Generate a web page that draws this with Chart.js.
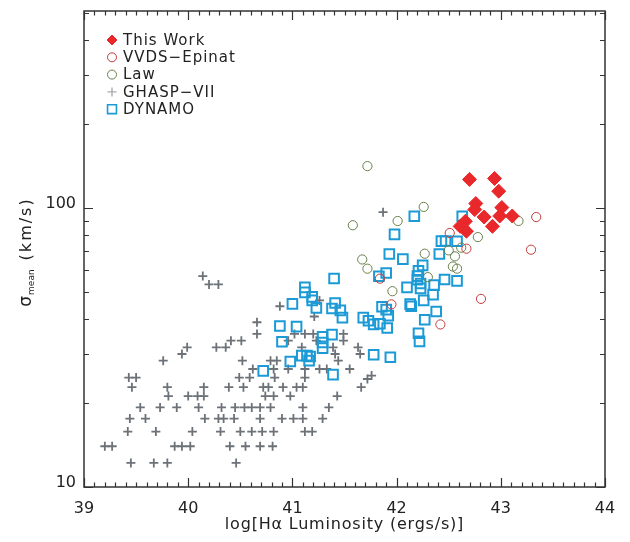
<!DOCTYPE html>
<html>
<head>
<meta charset="utf-8">
<script src="https://cdn.jsdelivr.net/npm/chart.js@4.4.1/dist/chart.umd.min.js"></script>
<style>
  html, body { margin: 0; padding: 0; background: #fff; }
  #wrap { width: 630px; height: 542px; }
</style>
</head>
<body>
<div id="wrap"><canvas id="chart" width="630" height="542"></canvas></div>
<script>
// axis ticks
const xTicks = [39, 40, 41, 42, 43, 44];
const yTickLabels = [10, 100];

// This Work
const thisWorkLum   = [42.70, 42.94, 42.98, 42.76, 42.75, 43.01, 42.84, 42.99, 43.11, 42.92, 42.66, 42.61, 42.67];
const thisWorkSigma = [126.9, 127.9, 115.1, 104.0, 98.9, 100.6, 93.0, 93.8, 93.8, 86.1, 89.8, 86.1, 82.7];

// VVDS-Epinat
const vvdsLum   = [43.34, 43.29, 42.51, 42.67, 42.81, 42.42, 41.95, 41.84];
const vvdsSigma = [93.0, 71.0, 81.5, 71.6, 47.3, 38.3, 45.2, 55.9];

// Law
const lawLum   = [41.72, 42.26, 42.01, 41.58, 43.17, 42.78, 41.67, 41.72, 42.27, 42.50, 42.56, 42.62, 42.54, 42.58, 42.30, 41.96];
const lawSigma = [141.6, 101.1, 90.0, 86.9, 90.0, 78.8, 65.5, 60.7, 68.7, 70.6, 67.2, 72.2, 61.8, 60.7, 56.6, 50.4];

// GHASP-VII
const ghaspLum = [
  39.45, 39.67, 39.80, 40.46,
  39.20, 39.27, 39.87, 39.94, 40.02, 40.40, 40.55, 40.69, 40.81,
  39.42, 39.69, 40.04, 40.31, 40.50, 40.61, 40.71, 40.82, 41.12, 41.19,
  39.44, 39.59, 40.16, 40.29, 40.34, 40.44, 40.69, 40.90, 41.01, 41.10, 41.29,
  39.54, 39.73, 39.89, 40.10, 40.32, 40.45, 40.54, 40.61, 40.69, 40.79, 41.10, 41.35,
  39.81, 40.00, 40.09, 40.15, 40.74, 40.82, 40.98, 41.43,
  39.46, 39.80, 40.15, 40.39, 40.53, 40.72, 40.77, 40.91, 41.04, 41.10, 41.66,
  39.43, 39.50, 40.49, 40.59, 40.83, 41.12, 41.76, 41.72,
  40.62, 40.82, 40.96, 41.12, 41.26, 41.33, 41.55,
  39.76, 40.52, 40.79, 40.85, 41.44,
  39.94, 41.41, 41.65,
  39.99, 40.27, 40.36, 41.09, 41.39, 41.63,
  40.41, 40.51, 40.96, 41.23, 41.49,
  40.66, 41.02, 41.12, 41.20, 41.49,
  40.66, 41.21, 40.88, 41.26, 40.20, 40.29, 40.14, 41.87
];
const ghaspSigma = [
  12.2, 12.2, 12.2, 12.2,
  14.0, 14.0, 14.0, 14.0, 14.0, 14.0, 14.0, 14.0, 14.0,
  15.8, 15.8, 15.8, 15.8, 15.8, 15.8, 15.8, 15.8, 15.8, 15.8,
  17.6, 17.6, 17.6, 17.6, 17.6, 17.6, 17.6, 17.6, 17.6, 17.6, 17.6,
  19.3, 19.3, 19.3, 19.3, 19.3, 19.3, 19.3, 19.3, 19.3, 19.3, 19.3, 19.3,
  21.2, 21.2, 21.2, 21.2, 21.2, 21.2, 21.2, 21.2,
  22.8, 22.8, 22.8, 22.8, 22.8, 22.8, 22.8, 22.8, 22.8, 22.8, 22.8,
  24.7, 24.7, 24.7, 24.7, 24.7, 24.7, 25.1, 24.4,
  26.5, 26.5, 26.5, 26.5, 26.5, 26.5, 26.5,
  28.4, 28.4, 28.4, 28.4, 28.4,
  30.0, 30.0, 30.0,
  31.7, 31.7, 31.7, 31.7, 31.7, 31.7,
  33.5, 33.5, 33.5, 33.5, 33.5,
  35.4, 35.4, 35.4, 35.4, 35.4,
  39.0, 40.9, 44.5, 46.7, 53.3, 53.3, 57.1, 96.8
];

// DYNAMO
const dynamoLum = [
  41.12, 41.12, 41.19, 41.19, 41.00, 41.23, 41.40, 41.41, 41.38, 41.46,
  41.48, 40.88, 41.04, 40.90, 41.29, 41.38, 41.29, 41.29, 41.09, 41.14,
  41.17, 41.16, 40.98, 40.72, 41.39, 41.68, 41.73, 41.78, 41.84, 41.91,
  41.78, 41.94, 41.86, 41.90, 41.92, 42.13, 42.14, 42.26, 42.38, 42.27,
  42.21, 42.22, 42.17, 42.63, 41.98, 42.43, 42.47, 42.58, 41.93, 42.06,
  42.41, 42.25, 42.21, 42.20, 42.20, 42.23, 42.23, 41.90, 41.83, 42.46,
  42.58, 42.10, 42.36, 42.35
];
const dynamoSigma = [
  52.0, 49.9, 48.1, 46.7, 45.4, 43.9, 56.0, 45.7, 43.7, 43.0,
  40.5, 37.8, 37.6, 33.2, 34.6, 35.2, 33.0, 31.5, 29.6, 29.6,
  29.4, 28.4, 28.2, 26.1, 25.3, 40.5, 39.5, 38.3, 38.5, 37.2,
  29.8, 29.2, 44.3, 43.3, 41.2, 45.3, 44.5, 46.7, 42.6, 39.8,
  35.6, 33.3, 93.6, 93.6, 80.6, 76.2, 76.3, 76.1, 68.5, 65.7,
  68.5, 62.4, 59.6, 57.1, 55.4, 53.7, 51.6, 58.6, 57.0, 55.5,
  54.9, 52.0, 53.0, 49.0
];

function pts(xs, ys) {
  return xs.map((x, i) => ({ x: x, y: ys[i] }));
}

const FONT = 'DejaVu Sans';
const INK = '#222';

const legendItems = [
  { text: 'This Work', style: 'rectRot', r: 5, fill: '#e8282b', stroke: '#e8282b', lw: 1 },
  { text: 'VVDS\u2212Epinat', style: 'circle', r: 4.5, fill: null, stroke: '#c43c3c', lw: 1 },
  { text: 'Law', style: 'circle', r: 4.5, fill: null, stroke: '#67804a', lw: 1 },
  { text: 'GHASP\u2212VII', style: 'cross', r: 4.5, fill: null, stroke: '#a7abaf', lw: 1.4 },
  { text: 'DYNAMO', style: 'rect', r: 6.3, fill: null, stroke: '#1b9ad6', lw: 1.6 }
];

// frame, inward ticks, axis titles and legend
const decorPlugin = {
  id: 'decor',
  afterDraw(chart) {
    const ctx = chart.ctx;
    const a = chart.chartArea;
    const xs = chart.scales.x;
    const ys = chart.scales.y;
    ctx.save();
    ctx.strokeStyle = '#333';
    ctx.lineWidth = 1.5;
    ctx.strokeRect(a.left, a.top, a.right - a.left, a.bottom - a.top);

    ctx.lineWidth = 1.2;
    ctx.beginPath();
    for (let k = 0; k <= 50; k++) {
      const v = 39 + k / 10;
      const px = Math.round(xs.getPixelForValue(v)) + 0.5;
      const len = k % 10 === 0 ? 9 : 4.5;
      ctx.moveTo(px, a.bottom); ctx.lineTo(px, a.bottom - len);
      ctx.moveTo(px, a.top); ctx.lineTo(px, a.top + len);
    }
    [10, 100].forEach(dec => {
      for (let m = 1; m <= 9; m++) {
        const v = dec * m;
        if (v > ys.max) break;
        const py = Math.round(ys.getPixelForValue(v)) + 0.5;
        const len = m === 1 ? 9 : 5;
        ctx.moveTo(a.left, py); ctx.lineTo(a.left + len, py);
        ctx.moveTo(a.right, py); ctx.lineTo(a.right - len, py);
      }
    });
    ctx.stroke();

    // x title
    ctx.fillStyle = INK;
    ctx.textBaseline = 'middle';
    ctx.textAlign = 'center';
    ctx.font = '16px "' + FONT + '"';
    ctx.letterSpacing = '0.8px';
    ctx.fillText('log[H\u03b1 Luminosity (ergs/s)]', (a.left + a.right) / 2, 525);

    // y title
    ctx.save();
    ctx.translate(27, 252);
    ctx.rotate(-Math.PI / 2);
    ctx.textAlign = 'left';
    ctx.font = '17px "' + FONT + '"';
    ctx.letterSpacing = '0px';
    const wSig = ctx.measureText('\u03c3').width;
    ctx.font = '9px "' + FONT + '"';
    const wSub = ctx.measureText('mean').width;
    ctx.font = '16px "' + FONT + '"';
    ctx.letterSpacing = '2px';
    const wUnit = ctx.measureText('(km/s)').width;
    const gap = 9;
    let x0 = -(wSig + 1 + wSub + gap + wUnit) / 2;
    ctx.font = '17px "' + FONT + '"';
    ctx.letterSpacing = '0px';
    ctx.fillText('\u03c3', x0, 0);
    x0 += wSig + 1;
    ctx.font = '9px "' + FONT + '"';
    ctx.fillText('mean', x0, 5);
    x0 += wSub + gap;
    ctx.font = '16px "' + FONT + '"';
    ctx.letterSpacing = '2px';
    ctx.fillText('(km/s)', x0, 0);
    ctx.restore();

    // legend
    ctx.font = '15px "' + FONT + '"';
    ctx.letterSpacing = '1px';
    ctx.textAlign = 'left';
    legendItems.forEach((it, i) => {
      const y = 40 + i * 17.3;
      ctx.fillStyle = it.fill || 'rgba(0,0,0,0)';
      ctx.strokeStyle = it.stroke;
      ctx.lineWidth = it.lw;
      Chart.helpers.drawPoint(ctx, { pointStyle: it.style, radius: it.r, rotation: 0, borderWidth: it.lw }, 112, y);
      ctx.fillStyle = INK;
      ctx.fillText(it.text, 123, y + 1);
    });
    ctx.restore();
  }
};

const ctx = document.getElementById('chart').getContext('2d');
new Chart(ctx, {
  type: 'scatter',
  data: {
    datasets: [
      {
        label: 'This Work',
        data: pts(thisWorkLum, thisWorkSigma),
        pointStyle: 'rectRot', pointRadius: 7,
        backgroundColor: '#e8282b', borderColor: '#e8282b', borderWidth: 1,
        order: 0
      },
      {
        label: 'VVDS\u2212Epinat',
        data: pts(vvdsLum, vvdsSigma),
        pointStyle: 'circle', pointRadius: 4.6,
        backgroundColor: 'rgba(0,0,0,0)', borderColor: '#c43c3c', borderWidth: 1,
        order: 1
      },
      {
        label: 'Law',
        data: pts(lawLum, lawSigma),
        pointStyle: 'circle', pointRadius: 4.6,
        backgroundColor: 'rgba(0,0,0,0)', borderColor: '#67804a', borderWidth: 1,
        order: 2
      },
      {
        label: 'GHASP\u2212VII',
        data: pts(ghaspLum, ghaspSigma),
        pointStyle: 'cross', pointRadius: 4.5,
        backgroundColor: '#6c7278', borderColor: '#6c7278', borderWidth: 1.8,
        order: 4
      },
      {
        label: 'DYNAMO',
        data: pts(dynamoLum, dynamoSigma),
        pointStyle: 'rect', pointRadius: 6.8,
        backgroundColor: 'rgba(0,0,0,0)', borderColor: '#1b9ad6', borderWidth: 2,
        order: 3
      }
    ]
  },
  options: {
    responsive: false,
    animation: false,
    devicePixelRatio: 1,
    events: [],
    layout: { padding: { left: 0, right: 25, top: 11, bottom: 0 } },
    plugins: {
      legend: { display: false },
      tooltip: { enabled: false }
    },
    scales: {
      x: {
        type: 'linear',
        min: 39, max: 44,
        afterFit: s => { s.height = 55; s.paddingLeft = 0; s.paddingRight = 0; },
        afterBuildTicks: s => { s.ticks = xTicks.map(v => ({ value: v })); },
        grid: { display: false, drawTicks: false },
        border: { display: false },
        ticks: {
          padding: 12,
          color: INK,
          font: { family: FONT, size: 16 },
          callback: v => String(v)
        }
      },
      y: {
        type: 'logarithmic',
        min: 10, max: 510,
        afterFit: s => { s.width = 84; s.paddingTop = 0; s.paddingBottom = 0; },
        grid: { display: false, drawTicks: false },
        border: { display: false },
        ticks: {
          autoSkip: false,
          padding: 8,
          labelOffset: -4,
          color: INK,
          font: { family: FONT, size: 16 },
          callback: v => yTickLabels.some(t => Math.abs(t - v) < 1e-6) ? String(v) : ''
        }
      }
    }
  },
  plugins: [decorPlugin]
});
</script>
</body>
</html>
